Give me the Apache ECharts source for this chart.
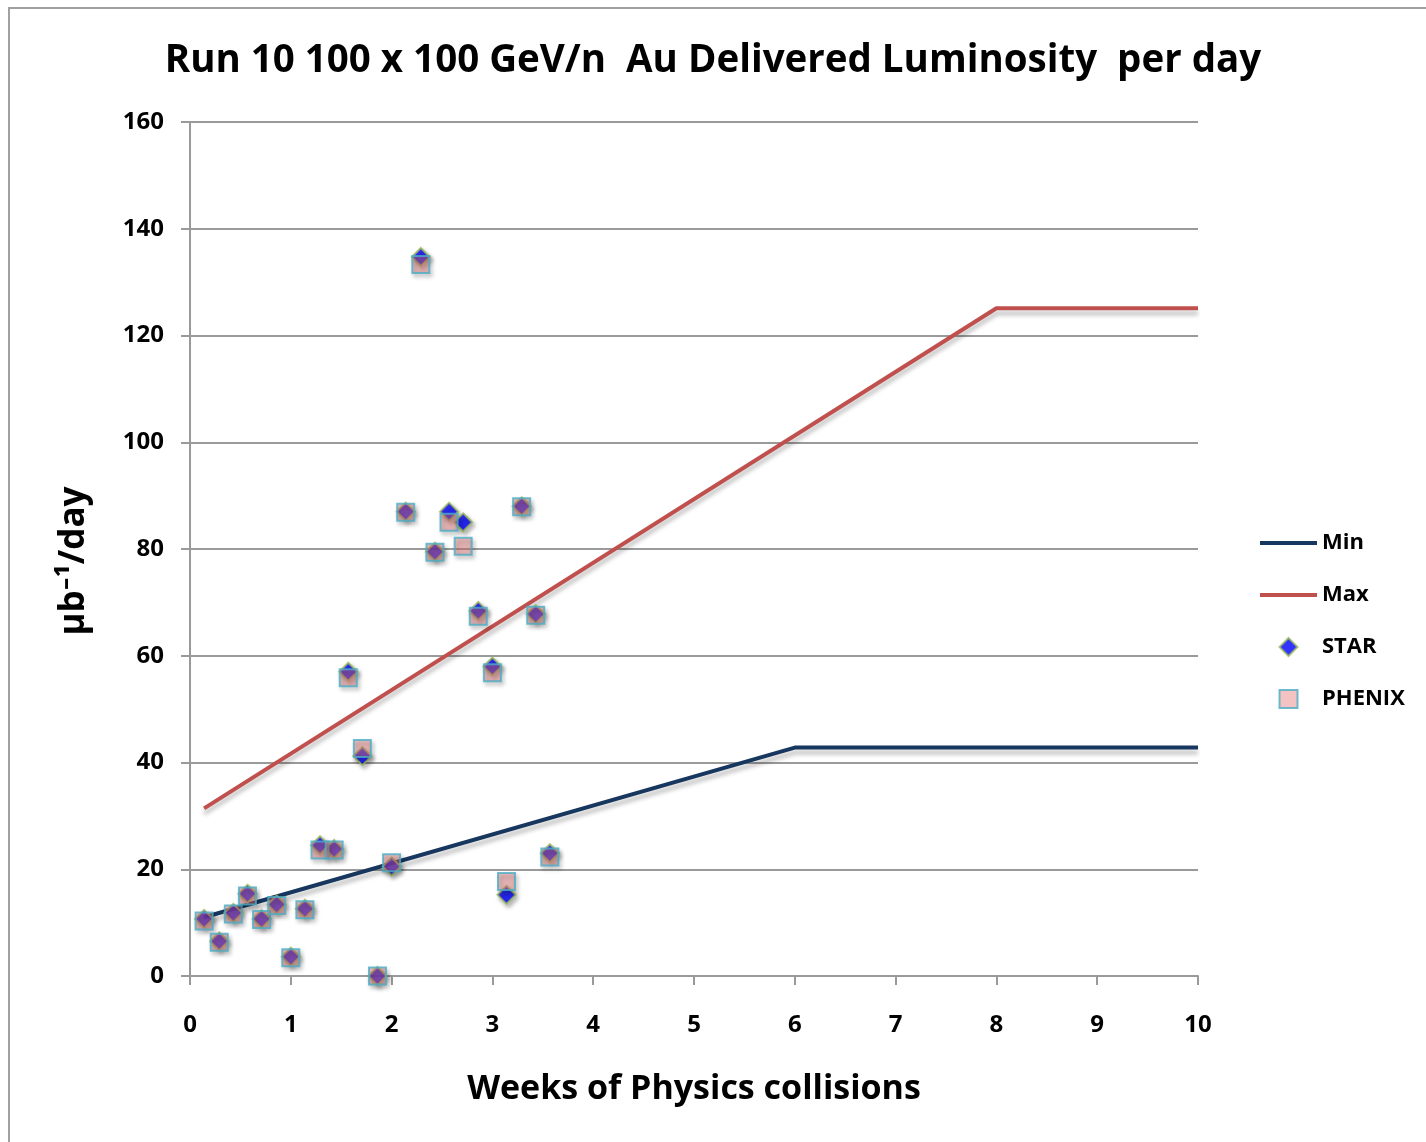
<!DOCTYPE html>
<html>
<head>
<meta charset="utf-8">
<script src="https://cdn.jsdelivr.net/npm/echarts@6/dist/echarts.min.js"></script>
<style>
  html, body { margin: 0; padding: 0; background: #fff; }
  #chart { width: 1426px; height: 1142px; }
</style>
</head>
<body>
<div id="chart"></div>
<script>
  // weeks of physics collisions (one point per day)
  const weeks = [0.14, 0.29, 0.43, 0.57, 0.71, 0.86, 1.0, 1.14, 1.29, 1.43, 1.57, 1.71, 1.86,
    2.0, 2.14, 2.29, 2.43, 2.57, 2.71, 2.86, 3.0, 3.14, 3.29, 3.43, 3.57]
  const starVals = [10.7, 6.5, 11.8, 15.4, 10.7, 13.4, 3.6, 12.6, 24.5, 23.8, 57, 41.2, 0,
    20.5, 87, 134.7, 79.5, 87, 85, 68.4, 58, 15.2, 88, 67.8, 23]
  const phenixVals = [10.3, 6.3, 11.6, 15, 10.6, 13.2, 3.4, 12.4, 23.6, 23.6, 55.9, 42.6, 0,
    21.2, 86.9, 133.3, 79.4, 85, 80.5, 67.4, 56.8, 17.7, 87.9, 67.6, 22.3]
  // projection lines (vertices)
  const minLine = [[0.14, 11], [6, 42.8], [10, 42.8]]
  const maxLine = [[0.14, 31.4], [8, 125.1], [10, 125.1]]
  const yTicks = { min: 0, max: 160, interval: 20 }
  const xTicks = { min: 0, max: 10, interval: 1 }

  const font = '"Open Sans", Roboto, sans-serif'
  const gridColor = '#9a9a9a'

  const chart = echarts.init(document.getElementById('chart'))
  chart.setOption({
    animation: false,
    backgroundColor: '#fff',
    title: {
      text: 'Run 10 100 x 100 GeV/n  Au Delivered Luminosity  per day',
      left: 708,
      textAlign: 'center',
      top: 37,
      textStyle: { fontFamily: font, fontWeight: 'bold', fontSize: 38.5, color: '#000' }
    },
    graphic: [{
      type: 'polyline',
      shape: { points: [[9, 1142], [9, 8], [1426, 8]] },
      style: { stroke: '#a0a0a0', lineWidth: 2, fill: null },
      z: -1
    }],
    legend: {
      orient: 'vertical',
      left: 1255,
      top: 527,
      itemWidth: 57,
      itemHeight: 18,
      itemGap: 30,
      textStyle: { fontFamily: font, fontWeight: 'bold', fontSize: 22, color: '#000' },
      data: [
        { name: 'Min', icon: 'path://M0 0H57V4H0Z' },
        { name: 'Max', icon: 'path://M0 0H57V4H0Z' },
        { name: 'STAR', icon: 'path://M8 0L16 8L8 16L0 8Z' },
        { name: 'PHENIX', icon: 'path://M0 0H17V17H0Z' }
      ]
    },
    grid: { left: 190, right: 228, top: 122, bottom: 166 },
    xAxis: {
      type: 'value',
      min: xTicks.min,
      max: xTicks.max,
      interval: xTicks.interval,
      name: 'Weeks of Physics collisions',
      nameLocation: 'middle',
      nameGap: 96,
      nameTextStyle: { fontFamily: font, fontWeight: 'bold', fontSize: 34, color: '#000' },
      axisLine: { lineStyle: { color: gridColor, width: 2 } },
      axisTick: { length: 9, lineStyle: { color: gridColor, width: 2 } },
      axisLabel: { margin: 37, fontFamily: font, fontWeight: 'bold', fontSize: 24, color: '#000' },
      splitLine: { show: false }
    },
    yAxis: {
      type: 'value',
      min: yTicks.min,
      max: yTicks.max,
      interval: yTicks.interval,
      name: 'μb⁻¹/day',
      nameLocation: 'middle',
      nameGap: 98,
      nameTextStyle: { fontFamily: font, fontWeight: 'bold', fontSize: 35, color: '#000', padding: [0, 24, 0, 0] },
      axisLine: { show: true, lineStyle: { color: gridColor, width: 2 } },
      axisTick: { show: true, length: 9, lineStyle: { color: gridColor, width: 2 } },
      axisLabel: { margin: 26, fontFamily: font, fontWeight: 'bold', fontSize: 24, color: '#000' },
      splitLine: { lineStyle: { color: gridColor, width: 2 } }
    },
    series: [{
      name: 'Min',
      type: 'line',
      symbol: 'none',
      color: '#17375e',
      lineStyle: { width: 4, color: '#17375e', shadowColor: 'rgba(0,0,0,0.25)', shadowBlur: 4, shadowOffsetY: 5 },
      data: minLine
    }, {
      name: 'Max',
      type: 'line',
      symbol: 'none',
      color: '#c0504d',
      lineStyle: { width: 4, color: '#c0504d', shadowColor: 'rgba(0,0,0,0.25)', shadowBlur: 4, shadowOffsetY: 5 },
      data: maxLine
    }, {
      name: 'STAR',
      type: 'scatter',
      symbol: 'diamond',
      symbolSize: 18,
      itemStyle: {
        color: '#0000ff',
        borderColor: '#9bbb59',
        borderWidth: 2,
        shadowColor: 'rgba(0,0,0,0.35)',
        shadowBlur: 4,
        shadowOffsetX: 2,
        shadowOffsetY: 3
      },
      z: 3,
      data: weeks.map((w, i) => [w, starVals[i]])
    }, {
      name: 'PHENIX',
      type: 'scatter',
      symbol: 'rect',
      symbolSize: 17,
      itemStyle: {
        color: 'rgba(228,119,119,0.55)',
        borderColor: '#4bacc6',
        borderWidth: 2,
        shadowColor: 'rgba(0,0,0,0.3)',
        shadowBlur: 4,
        shadowOffsetX: 2,
        shadowOffsetY: 3
      },
      z: 4,
      data: weeks.map((w, i) => [w, phenixVals[i]])
    }]
  })
</script>
</body>
</html>
